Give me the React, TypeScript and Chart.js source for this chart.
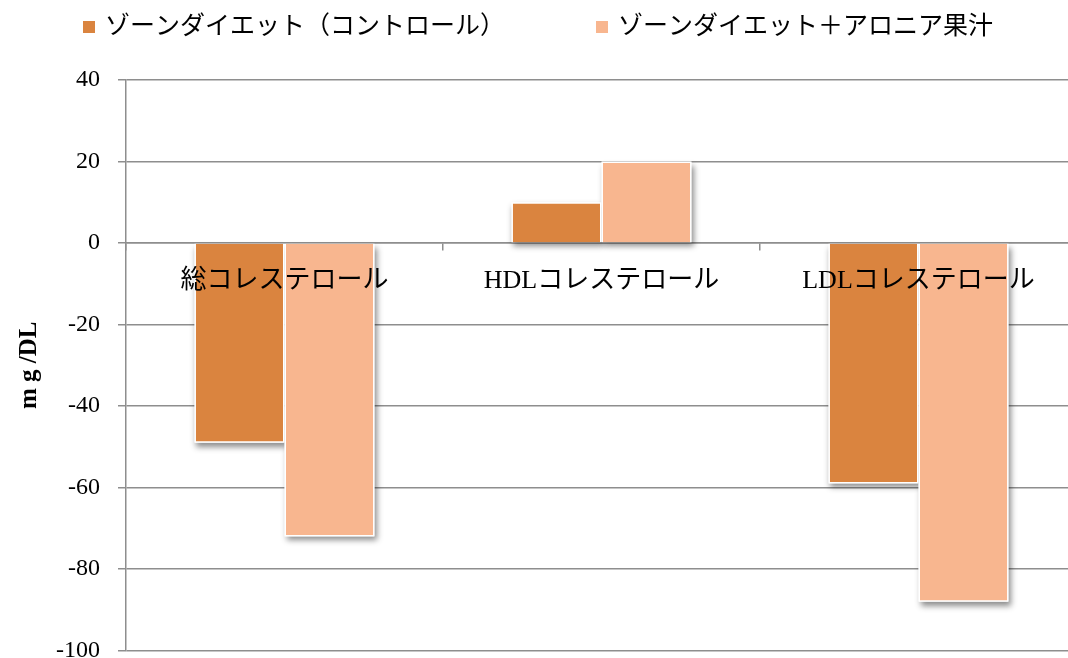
import React, { useEffect, useRef } from "react";
import { Chart, registerables } from "chart.js";

Chart.register(...registerables);

// Values (mg/DL change) per cholesterol category
const categories = ["総コレステロール", "HDLコレステロール", "LDLコレステロール"];
const seriesNames = ["ゾーンダイエット（コントロール）", "ゾーンダイエット＋アロニア果汁"];
const controlValues = [-49, 10, -59];
const aroniaValues = [-72, 20, -88];
const yTicks = [40, 20, 0, -20, -40, -60, -80, -100];

const COLORS = ["#DA843F", "#F8B68F"];
const GRID = "#8e8e8e";
const SERIF = '"Liberation Serif", "Noto Sans CJK JP", serif';

// Soft drop shadow behind every bar, drawn before the bars themselves
const barShadow = {
  id: "barShadow",
  beforeDatasetsDraw(chart: any) {
    const ctx = chart.ctx;
    ctx.save();
    ctx.shadowColor = "rgba(0,0,0,0.45)";
    ctx.shadowBlur = 6;
    ctx.shadowOffsetX = 2;
    ctx.shadowOffsetY = 4;
    ctx.fillStyle = "#ffffff";
    chart.data.datasets.forEach((_: any, i: number) => {
      const meta = chart.getDatasetMeta(i);
      meta.data.forEach((el: any) => {
        const { x, y, base, width } = el.getProps(["x", "y", "base", "width"], true);
        const top = Math.min(y, base);
        const h = Math.abs(base - y);
        ctx.fillRect(x - width / 2, top, width, h);
      });
    });
    ctx.restore();
  },
};

// Top legend: square swatch + series name, laid out left to right
const topLegend = {
  id: "topLegend",
  afterDraw(chart: any) {
    const ctx = chart.ctx;
    ctx.save();
    ctx.font = `25px ${SERIF}`;
    ctx.textBaseline = "middle";
    const box = 12;
    const boxGap = 10;
    const itemGap = 91;
    let x = 83;
    const cy = 27;
    chart.data.datasets.forEach((d: any) => {
      ctx.fillStyle = d.backgroundColor;
      ctx.fillRect(x, cy - box / 2, box, box);
      ctx.fillStyle = "#000";
      ctx.fillText(d.label, x + box + boxGap, cy);
      x += box + boxGap + ctx.measureText(d.label).width + itemGap;
    });
    ctx.restore();
  },
};

export default function App() {
  const ref = useRef<HTMLCanvasElement | null>(null);

  useEffect(() => {
    if (!ref.current) return;
    const chart = new Chart(ref.current, {
      type: "bar",
      data: {
        labels: categories,
        datasets: [
          {
            label: seriesNames[0],
            data: controlValues,
            backgroundColor: COLORS[0],
            borderColor: "#ffffff",
            borderWidth: 1.5,
          },
          {
            label: seriesNames[1],
            data: aroniaValues,
            backgroundColor: COLORS[1],
            borderColor: "#ffffff",
            borderWidth: 1.5,
          },
        ],
      },
      options: {
        responsive: false,
        animation: false,
        layout: { padding: { top: 80, right: 8, bottom: 22, left: 0 } },
        datasets: {
          bar: { categoryPercentage: 0.568, barPercentage: 1.0 },
        },
        plugins: {
          legend: { display: false },
          tooltip: { enabled: false },
        },
        scales: {
          x: {
            position: { y: 0 } as any,
            offset: true,
            grid: {
              offset: true,
              drawOnChartArea: false,
              drawTicks: true,
              tickLength: 7,
              color: GRID,
              lineWidth: 1.5,
            },
            border: { display: true, color: GRID, width: 1.5 },
            ticks: {
              z: 1,
              color: "#000",
              font: { family: SERIF, size: 26 },
              padding: 16,
              maxRotation: 0,
              autoSkip: false,
            },
          },
          y: {
            min: -100,
            max: 40,
            afterBuildTicks: (scale: any) => {
              scale.ticks = yTicks.map((v) => ({ value: v }));
            },
            afterFit: (scale: any) => {
              scale.width = 126;
            },
            grid: {
              color: GRID,
              lineWidth: 1.5,
              drawTicks: true,
              tickLength: 8,
            },
            border: { display: true, color: GRID, width: 1.5 },
            ticks: {
              color: "#000",
              font: { family: SERIF, size: 24 },
              padding: 18,
            },
            title: {
              display: true,
              text: "m g /DL",
              color: "#000",
              font: { family: SERIF, size: 25, weight: "bold" },
              padding: { top: 15, bottom: 0 },
            },
          },
        },
      },
      plugins: [barShadow, topLegend],
    });
    return () => chart.destroy();
  }, []);

  return (
    <div style={{ position: "fixed", left: 0, top: 0, width: 1068, height: 658, overflow: "hidden", background: "#fff" }}>
      <canvas ref={ref} width={1085} height={683} style={{ display: "block" }} />
    </div>
  );
}
